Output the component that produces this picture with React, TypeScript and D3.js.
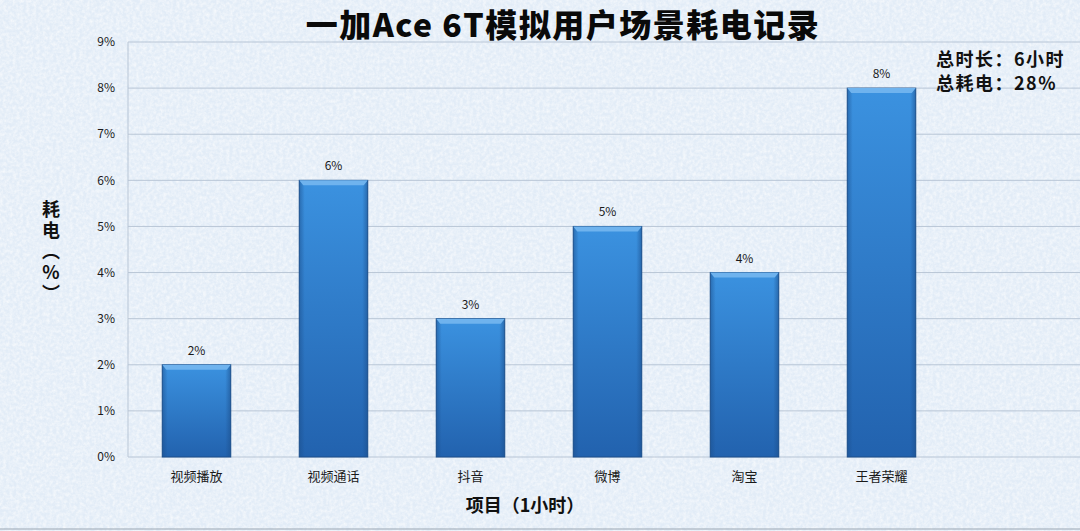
import React, { useEffect, useRef } from "react";
import * as d3 from "d3";

// 一加Ace 6T 模拟用户场景耗电
const categories = ["视频播放", "视频通话", "抖音", "微博", "淘宝", "王者荣耀"];
const drain = [2, 6, 3, 5, 4, 8];
const yTicks = [0, 1, 2, 3, 4, 5, 6, 7, 8, 9];
const title = "一加Ace 6T模拟用户场景耗电记录";
const notes = ["总时长：6小时", "总耗电：28%"];
const yTitle = "耗电︵%︶";

const App: React.FC = () => {
  const svgRef = useRef<SVGSVGElement | null>(null);

  useEffect(() => {
    const width = 1080;
    const height = 531;
    const marginLeft = 128;
    const marginTop = 42;
    const bottomY = 457;
    const font = "'Microsoft YaHei', 'Noto Sans CJK SC', sans-serif";

    const x = d3
      .scaleBand()
      .domain(categories)
      .range([marginLeft, marginLeft + 137 * categories.length])
      .paddingInner(0.5)
      .paddingOuter(0.25);

    const y = d3.scaleLinear().domain([0, 9]).range([bottomY, marginTop]);

    const svg = d3
      .select(svgRef.current)
      .attr("viewBox", [0, 0, width, height])
      .attr("width", width)
      .attr("height", height)
      .style("display", "block")
      .style("position", "absolute")
      .style("left", "0")
      .style("top", "0");

    svg.selectAll("*").remove();

    const defs = svg.append("defs");
    // 背景的纹理
    const noise = defs.append("filter").attr("id", "paper");
    noise
      .append("feTurbulence")
      .attr("type", "fractalNoise")
      .attr("baseFrequency", 0.3)
      .attr("numOctaves", 3)
      .attr("seed", 4);
    noise
      .append("feColorMatrix")
      .attr("type", "matrix")
      .attr("values", "0 0 0 0 1  0 0 0 0 1  0 0 0 0 1  0 0 0 -1.6 1.1");

    const grad = defs
      .append("linearGradient")
      .attr("id", "barGrad")
      .attr("x1", 0)
      .attr("y1", 0)
      .attr("x2", 0)
      .attr("y2", 1);
    grad.append("stop").attr("offset", "0%").attr("stop-color", "#3b92e0");
    grad.append("stop").attr("offset", "100%").attr("stop-color", "#2262ae");

    const side = defs
      .append("linearGradient")
      .attr("id", "barSide")
      .attr("x1", 0)
      .attr("y1", 0)
      .attr("x2", 1)
      .attr("y2", 0);
    side.append("stop").attr("offset", "0%").attr("stop-color", "#1c4f8c").attr("stop-opacity", 0.55);
    side.append("stop").attr("offset", "8%").attr("stop-color", "#1c4f8c").attr("stop-opacity", 0);
    side.append("stop").attr("offset", "92%").attr("stop-color", "#1c4f8c").attr("stop-opacity", 0);
    side.append("stop").attr("offset", "100%").attr("stop-color", "#1c4f8c").attr("stop-opacity", 0.6);

    svg.append("rect").attr("width", width).attr("height", height).attr("fill", "#e2ecf7");
    svg
      .append("rect")
      .attr("width", width)
      .attr("height", height)
      .attr("fill", "#c3d5e8")
      .attr("filter", "url(#paper)")
      .attr("opacity", 0.7);

    // 网格线
    svg
      .append("g")
      .selectAll("line")
      .data(yTicks)
      .enter()
      .append("line")
      .attr("x1", marginLeft)
      .attr("x2", width)
      .attr("y1", (d) => y(d))
      .attr("y2", (d) => y(d))
      .attr("stroke", "#b9c6d6")
      .attr("stroke-width", 1);

    svg
      .append("line")
      .attr("x1", marginLeft)
      .attr("x2", marginLeft)
      .attr("y1", marginTop)
      .attr("y2", bottomY)
      .attr("stroke", "#b9c6d6");

    svg
      .append("line")
      .attr("x1", 0)
      .attr("x2", width)
      .attr("y1", 529)
      .attr("y2", 529)
      .attr("stroke", "#9aa6b3");

    // y轴
    svg
      .append("g")
      .selectAll("text")
      .data(yTicks)
      .enter()
      .append("text")
      .attr("x", marginLeft - 13)
      .attr("y", (d) => y(d))
      .attr("dy", "0.35em")
      .attr("text-anchor", "end")
      .attr("font-family", font)
      .attr("font-size", 12)
      .attr("fill", "#1a1a1a")
      .text((d) => d + "%");

    // 柱子
    const bars = svg
      .append("g")
      .selectAll(".bar")
      .data(drain)
      .enter()
      .append("g")
      .attr("class", "bar");

    bars
      .append("rect")
      .attr("x", (_, i) => x(categories[i]) as number)
      .attr("y", (d) => y(d))
      .attr("width", x.bandwidth())
      .attr("height", (d) => y(0) - y(d))
      .attr("fill", "url(#barGrad)")
      .attr("stroke", "#1d4f8a")
      .attr("stroke-width", 1);

    bars
      .append("rect")
      .attr("x", (_, i) => x(categories[i]) as number)
      .attr("y", (d) => y(d))
      .attr("width", x.bandwidth())
      .attr("height", (d) => y(0) - y(d))
      .attr("fill", "url(#barSide)");

    // 顶部斜面
    bars
      .append("path")
      .attr("d", (d, i) => {
        const x0 = x(categories[i]) as number;
        const x1 = x0 + x.bandwidth();
        const t = y(d);
        return `M${x0},${t}L${x1},${t}L${x1 - 4},${t + 5}L${x0 + 4},${t + 5}Z`;
      })
      .attr("fill", "#6fb3ee");

    bars
      .append("text")
      .attr("x", (_, i) => (x(categories[i]) as number) + x.bandwidth() / 2)
      .attr("y", (d) => y(d) - 10)
      .attr("text-anchor", "middle")
      .attr("font-family", font)
      .attr("font-size", 12)
      .attr("fill", "#1a1a1a")
      .text((d) => d + "%");

    // x轴标签
    svg
      .append("g")
      .selectAll("text")
      .data(categories)
      .enter()
      .append("text")
      .attr("x", (d) => (x(d) as number) + x.bandwidth() / 2)
      .attr("y", 481)
      .attr("text-anchor", "middle")
      .attr("font-family", font)
      .attr("font-size", 13)
      .attr("fill", "#1a1a1a")
      .text((d) => d);

    svg
      .append("text")
      .attr("x", 525)
      .attr("y", 512)
      .attr("text-anchor", "middle")
      .attr("font-family", font)
      .attr("font-size", 18)
      .attr("font-weight", "bold")
      .attr("fill", "#111")
      .text("项目（1小时）");

    // y轴标题 竖排
    svg
      .append("text")
      .attr("x", 51)
      .attr("y", 200)
      .attr("font-family", font)
      .attr("font-size", 18)
      .attr("font-weight", "bold")
      .attr("letter-spacing", 3)
      .attr("fill", "#111")
      .style("writing-mode", "vertical-rl")
      .style("text-orientation", "upright")
      .text(yTitle);

    svg
      .append("text")
      .attr("x", 563)
      .attr("y", 37)
      .attr("text-anchor", "middle")
      .attr("font-family", font)
      .attr("font-size", 32)
      .attr("font-weight", "900")
      .attr("letter-spacing", 1.5)
      .attr("fill", "#0a0a0a")
      .text(title);

    svg
      .append("g")
      .selectAll("text")
      .data(notes)
      .enter()
      .append("text")
      .attr("x", 936)
      .attr("y", (_, i) => 66 + i * 24)
      .attr("font-family", font)
      .attr("font-size", 18)
      .attr("font-weight", "bold")
      .attr("letter-spacing", 1.5)
      .attr("fill", "#111")
      .text((d) => d);
  }, []);

  return (
    <div style={{ width: "1080px", height: "531px" }}>
      <svg ref={svgRef}></svg>
    </div>
  );
};

export default App;
